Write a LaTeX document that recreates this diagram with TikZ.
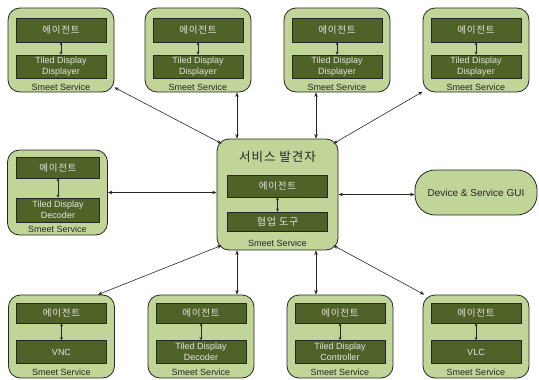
\documentclass[tikz,border=0pt]{standalone}
\usepackage{fontspec}
\setmainfont{Liberation Sans}
\newfontfamily\kr{Noto Sans CJK KR}
\newfontfamily\krw[LetterSpace=8]{Noto Sans CJK KR}
\usetikzlibrary{arrows.meta}
\definecolor{outerg}{HTML}{C0D597}
\definecolor{innerg}{HTML}{4F6228}
\definecolor{edgec}{HTML}{262626}
\tikzset{
  outer/.style={draw=edgec, fill=outerg, rounded corners=12pt, line width=0.8pt, inner sep=0pt},
  innerbox/.style={draw=edgec, fill=innerg, line width=0.7pt, text=white!90!black,
    font=\fontsize{9}{10.5}\selectfont, align=center, inner sep=0pt},
  lbl/.style={font=\fontsize{9}{10}\selectfont, text=edgec, inner sep=0pt},
  conn/.style={{Stealth[length=4.5pt,width=3.5pt]}-{Stealth[length=4.5pt,width=3.5pt]}, line width=0.6pt, draw=edgec},
  tinyarr/.style={{Stealth[length=3pt,width=3pt]}-{Stealth[length=3pt,width=3pt]}, line width=0.6pt, draw=edgec},
}
\newcommand\agenttext{{\krw\fontsize{9.5}{11}\selectfont 에이전트}}
\newcommand\toprowbox[3]{%
  \node[outer, minimum width=106pt, minimum height=84pt] (#1) at (#2,50) {};
  \node[innerbox, minimum width=90pt, minimum height=24pt] (#1a) at (#2,30) {\agenttext};
  \node[innerbox, minimum width=90pt, minimum height=23pt] (#1b) at (#2,66.5) {#3};
  \node[lbl] (#1l) at (#2,87) {Smeet Service};
  \draw[tinyarr] (#1a) -- (#1b);
}
\newcommand\botrowbox[3]{%
  \node[outer, minimum width=106pt, minimum height=83pt] (#1) at (#2,336.5) {};
  \node[innerbox, minimum width=90pt, minimum height=20pt] (#1a) at (#2,313) {\agenttext};
  \node[innerbox, minimum width=90pt, minimum height=23pt] (#1b) at (#2,352) {#3};
  \node[lbl] (#1l) at (#2,372) {Smeet Service};
  \draw[tinyarr] (#1a) -- (#1b);
}
\begin{document}
\begin{tikzpicture}[x=1pt,y=-1pt]
\useasboundingbox (0,0) rectangle (539,380);
% top row
\toprowbox{t1}{61}{Tiled Display\\Displayer}
\toprowbox{t2}{198}{Tiled Display\\Displayer}
\toprowbox{t3}{337}{Tiled Display\\Displayer}
\toprowbox{t4}{476}{Tiled Display\\Displayer}
% bottom row
\botrowbox{b1}{61.5}{VNC}
\botrowbox{b2}{201}{Tiled Display\\Decoder}
\botrowbox{b3}{340}{Tiled Display\\Controller}
\botrowbox{b4}{476}{VLC}
% left middle
\node[outer, minimum width=100pt, minimum height=85pt] (lm) at (57.5,192.5) {};
\node[innerbox, minimum width=83pt, minimum height=21pt] (lma) at (58,167.5) {\agenttext};
\node[innerbox, minimum width=83pt, minimum height=24pt] (lmb) at (58,210) {Tiled Display\\Decoder};
\node[lbl] (lml) at (57.5,229) {Smeet Service};
\draw[tinyarr] (lma) -- (lmb);
% center
\node[outer, minimum width=121pt, minimum height=111pt] (c) at (277.5,194.5) {};
\node[inner sep=0pt, text=edgec, font=\krw\fontsize{12.5}{14}\selectfont] (ct) at (277.5,157) {서비스 발견자};
\node[innerbox, minimum width=100pt, minimum height=22pt] (ca) at (277.5,186) {\agenttext};
\node[innerbox, minimum width=100pt, minimum height=19pt, font=\krw\fontsize{10}{11}\selectfont] (cb) at (277.5,221.5) {협업 도구};
\node[lbl] (cl) at (277.5,243) {Smeet Service};
\draw[tinyarr] (ca) -- (cb);
% GUI
\node[outer, rounded corners=20pt, minimum width=122pt, minimum height=45pt, font=\fontsize{10}{11}\selectfont, text=edgec] (g) at (476,192.5) {Device \& Service GUI};
% connectors
\coordinate (v1) at (237,0);
\coordinate (v2) at (316,0);
\draw[conn] (t1.-35) -- ([shift={(5,5)}]c.north west);
\draw[conn] (t2.south -| v1) -- (c.north -| v1);
\draw[conn] (t3.south -| v2) -- (c.north -| v2);
\draw[conn] (t4.218) -- ([shift={(-5,5)}]c.north east);
\draw[conn] (lm.east) -- (lm.east -| c.west);
\draw[conn] (c.east) -- (c.east -| g.west);
\draw[conn] ([shift={(5,-5)}]c.south west) -- (b1.49);
\draw[conn] (c.south -| v1) -- (b2.north -| v1);
\draw[conn] (c.south -| v2) -- (b3.north -| v2);
\draw[conn] ([shift={(-5,-5)}]c.south east) -- (b4.141);
\end{tikzpicture}
\end{document}
